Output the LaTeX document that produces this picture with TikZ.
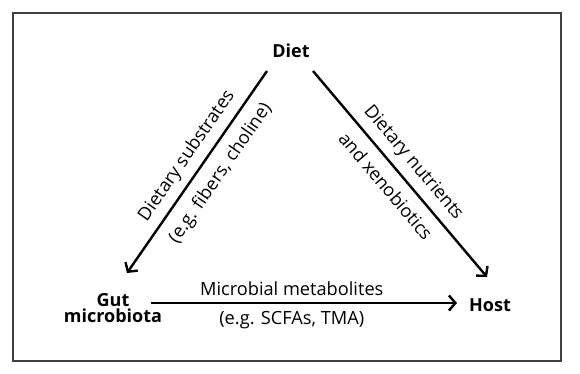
\documentclass[tikz,border=0pt]{standalone}
\usepackage{fontspec}
\setmainfont{Open Sans}
\usepackage{tikz}
\usetikzlibrary{arrows.meta}
\usetikzlibrary{calc}

\tikzset{
  ent/.style={font=\bfseries\fontsize{18}{20}\selectfont, align=center, inner sep=1pt},
  lbl/.style={font=\fontsize{18.2}{20}\selectfont, inner sep=1pt},
  flow/.style={line width=2.4pt, -{Straight Barb[length=6.5pt,width=15pt,line width=2.4pt]}},
  frame/.style={draw=black!75, line width=1.4pt}
}

\begin{document}
\begin{tikzpicture}[x=1pt,y=-1pt]
  \useasboundingbox (0,0) rectangle (580,374);
  \draw[frame] (13,13) rectangle (561,361);

  % the three parties
  \node[ent] (diet) at (291,51) {Diet};
  \node[ent] (gut) at (113,308) {Gut\\[-4pt]microbiota};
  \node[ent] (host) at (490,305) {Host};

  % arrow ends
  \coordinate (dietL) at ($(diet)+(-24,20)$);
  \coordinate (dietR) at ($(diet)+(22,20)$);
  \coordinate (gutT) at ($(gut)+(14,-35)$);
  \coordinate (gutR) at ($(gut)+(38,-5)$);
  \coordinate (hostT) at ($(host)+(-3,-28)$);
  \coordinate (hostL) at ($(host)+(-33,-2)$);

  \draw[flow] (dietL) -- (gutT)
    node[lbl,pos=0.47,sloped,above=6pt] {Dietary substrates}
    node[lbl,pos=0.45,sloped,below=9pt] {(e.g. fibers, choline)};
  \draw[flow] (dietR) -- (hostT)
    node[lbl,pos=0.5,sloped,above=6pt] {Dietary nutrients}
    node[lbl,pos=0.5,sloped,below=9pt] {and xenobiotics};
  \draw[flow] (gutR) -- (hostL)
    node[lbl,pos=0.46,above=5pt] {Microbial metabolites}
    node[lbl,pos=0.46,below=6pt] {(e.g. SCFAs, TMA)};
\end{tikzpicture}
\end{document}
